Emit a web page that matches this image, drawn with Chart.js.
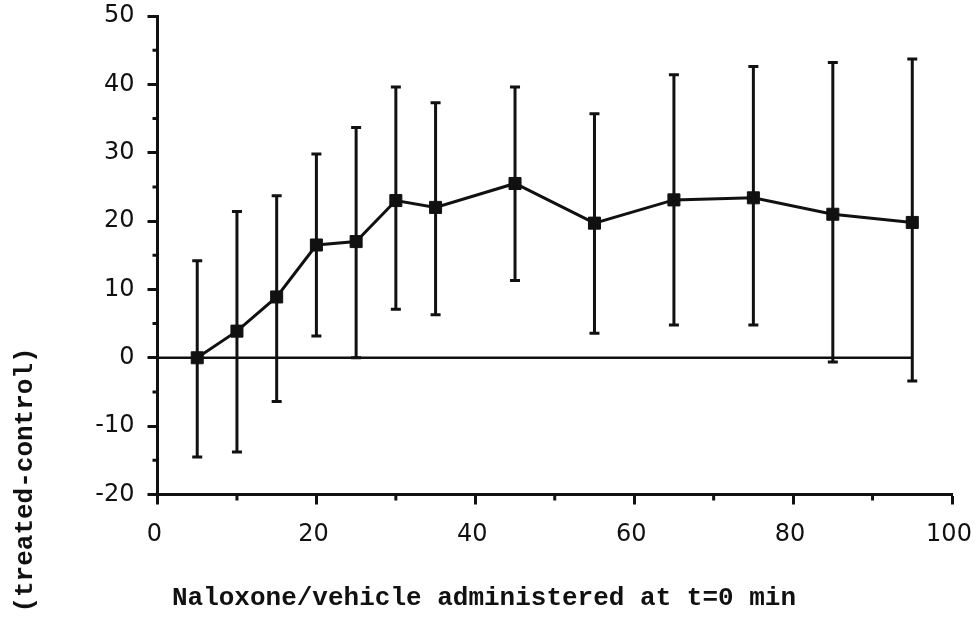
<!DOCTYPE html>
<html>
<head>
<meta charset="utf-8">
<script src="https://cdn.jsdelivr.net/npm/chart.js@4.4.1/dist/chart.umd.min.js"></script>
<style>
    html, body { margin:0; padding:0; background:#fff; }
    #wrap { width:976px; height:619px; }
</style>
</head>
<body>
<div id="wrap"><canvas id="grafico" width="976" height="619"></canvas></div>
<script>

// DATOS
const tiempos   = [5, 10, 15, 20, 25, 30, 35, 45, 55, 65, 75, 85, 95];
const medias    = [0, 3.9, 8.9, 16.5, 17, 23, 22, 25.5, 19.7, 23.1, 23.4, 21, 19.8];
const limiteSup = [14.2, 21.4, 23.7, 29.8, 33.7, 39.6, 37.3, 39.6, 35.7, 41.4, 42.6, 43.2, 43.7];
const limiteInf = [-14.5, -13.8, -6.4, 3.2, 0, 7.1, 6.3, 11.3, 3.6, 4.8, 4.8, -0.6, -3.4];

// TICKS MENORES
const menoresY = [-15, -5, 5, 15, 25, 35, 45];
const menoresX = [10, 30, 50, 70, 90];

const tituloX = 'Naloxone/vehicle administered at t=0 min';
const tituloY = '(treated-control)';

const NEGRO = '#111';
const fuenteMono = 'bold 26px "Courier New", "Liberation Mono", monospace';

// BARRAS DE ERROR
const barrasError = {
    id: 'barrasError',
    afterDatasetsDraw(chart){
        const {ctx, scales:{x, y}} = chart;
        ctx.save();
        ctx.strokeStyle = NEGRO;
        ctx.lineWidth = 3;
        tiempos.forEach((t, i) => {
            let px = x.getPixelForValue(t);
            let ys = y.getPixelForValue(limiteSup[i]);
            let yi = y.getPixelForValue(limiteInf[i]);
            ctx.beginPath();
            ctx.moveTo(px, ys); ctx.lineTo(px, yi);
            ctx.moveTo(px - 5, ys); ctx.lineTo(px + 5, ys);
            ctx.moveTo(px - 5, yi); ctx.lineTo(px + 5, yi);
            ctx.stroke();
        });
        ctx.restore();
    }
};

// TICKS CORTOS Y TITULOS
const extras = {
    id: 'extras',
    afterDraw(chart){
        const {ctx, scales:{x, y}} = chart;
        ctx.save();
        ctx.strokeStyle = NEGRO;
        ctx.lineWidth = 3;
        ctx.beginPath();
        menoresY.forEach(v => {
            let py = y.getPixelForValue(v);
            ctx.moveTo(x.left - 5, py); ctx.lineTo(x.left, py);
        });
        menoresX.forEach(v => {
            let px = x.getPixelForValue(v);
            ctx.moveTo(px, y.bottom); ctx.lineTo(px, y.bottom + 6);
        });
        ctx.stroke();

        ctx.fillStyle = NEGRO;
        ctx.font = fuenteMono;
        ctx.textAlign = 'center';
        ctx.textBaseline = 'alphabetic';
        ctx.fillText(tituloX, 484, 605);

        ctx.translate(32, 480);
        ctx.rotate(-Math.PI / 2);
        ctx.fillText(tituloY, 0, 0);
        ctx.restore();
    }
};

const ejeComun = {
    grid: {
        drawOnChartArea: false,
        drawTicks: true,
        tickLength: 10,
        tickWidth: 3,
        tickColor: NEGRO
    },
    border: { display: true, color: NEGRO, width: 3 },
    ticks: {
        color: NEGRO,
        font: { family: 'DejaVu Sans', size: 24 }
    }
};

new Chart(document.getElementById('grafico'), {
    type: 'line',
    data: {
        datasets: [
            {
                // linea de cero
                data: [{x: 0, y: 0}, {x: tiempos[tiempos.length - 1], y: 0}],
                borderColor: NEGRO,
                borderWidth: 2.5,
                pointRadius: 0
            },
            {
                data: tiempos.map((t, i) => ({x: t, y: medias[i]})),
                borderColor: NEGRO,
                borderWidth: 3,
                pointStyle: 'rect',
                pointRadius: 8.5,
                pointBackgroundColor: NEGRO,
                pointBorderColor: NEGRO,
                pointBorderWidth: 1,
                tension: 0
            }
        ]
    },
    options: {
        responsive: false,
        devicePixelRatio: 1,
        animation: false,
        layout: { padding: { top: 16, right: 24, left: 0, bottom: 0 } },
        plugins: {
            legend: { display: false },
            tooltip: { enabled: false }
        },
        scales: {
            x: {
                type: 'linear',
                min: 0,
                max: 100,
                ...ejeComun,
                ticks: { ...ejeComun.ticks, stepSize: 20, padding: 16, maxRotation: 0, labelOffset: -3 },
                afterFit: s => { s.height = 124.5; s.paddingLeft = 0; s.paddingRight = 0; }
            },
            y: {
                min: -20,
                max: 50,
                ...ejeComun,
                ticks: { ...ejeComun.ticks, stepSize: 10, padding: 13 },
                afterFit: s => { s.width = 157.5; s.paddingTop = 0; s.paddingBottom = 0; }
            }
        }
    },
    plugins: [barrasError, extras]
});

</script>
</body>
</html>
